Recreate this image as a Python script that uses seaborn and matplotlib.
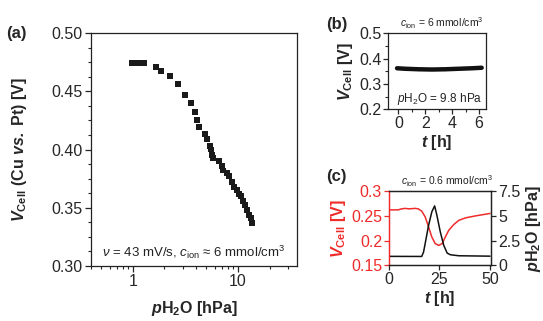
import numpy as np
import pandas as pd
import seaborn as sns
import matplotlib.pyplot as plt
from matplotlib.ticker import MultipleLocator, NullFormatter, LogLocator

# panel (a): cell voltage vs water partial pressure
p_h2o = [0.985, 1.12, 1.28, 1.66, 1.84, 2.25, 2.67, 3.13, 3.55, 3.87, 4.10, 4.28,
         4.85, 5.07, 5.41, 5.53, 5.69, 5.78, 6.59, 7.04, 7.24, 7.80, 8.26, 8.71,
         9.22, 9.72, 10.3, 10.8, 11.2, 11.7, 12.1, 12.7, 13.2, 13.6]
v_cell = [0.474, 0.4745, 0.474, 0.471, 0.467, 0.463, 0.456, 0.447, 0.440, 0.432,
          0.425, 0.419, 0.413, 0.409, 0.403, 0.400, 0.395, 0.393, 0.390, 0.386,
          0.382, 0.380, 0.377, 0.372, 0.368, 0.365, 0.362, 0.360, 0.356, 0.352,
          0.348, 0.344, 0.341, 0.337]

# panel (b): long term voltage
t_b = [-0.1, 0.5, 1.5, 2.5, 3.5, 4.5, 5.5, 6.2]
v_b = [0.362, 0.360, 0.358, 0.357, 0.358, 0.360, 0.362, 0.364]

# panel (c): voltage (red) and pH2O (black) vs time
t_red = [0, 4.5, 6.2, 7.9, 10, 12.9, 14.5, 16.2, 17.9, 19.6, 21.2, 22.9, 24.6,
         26.3, 27.9, 29.6, 32.1, 34.6, 38, 43, 50]
v_red = [0.262, 0.262, 0.264, 0.265, 0.264, 0.265, 0.264, 0.2595, 0.248, 0.2277,
         0.2074, 0.194, 0.1905, 0.194, 0.2074, 0.221, 0.2325, 0.241, 0.246, 0.250,
         0.2548]
t_blk = [0, 16.2, 17.1, 17.9, 19.6, 21.2, 22.6, 23.7, 25.4, 27.1, 28.8, 30.4, 34.6, 50]
p_blk = [0.92, 0.91, 1.35, 2.2, 4.05, 5.4, 6.0, 5.07, 3.38, 2.03, 1.25, 1.08, 0.98, 0.94]

red = '#ef2b2b'

sns.set_theme(style='ticks')
plt.rcParams['font.family'] = ['Liberation Sans', 'DejaVu Sans']
plt.rcParams['mathtext.fontset'] = 'custom'
plt.rcParams['mathtext.rm'] = 'Liberation Sans'
plt.rcParams['mathtext.it'] = 'Liberation Sans:italic'
plt.rcParams['mathtext.bf'] = 'Liberation Sans:bold'
plt.rcParams['mathtext.bfit'] = 'Liberation Sans:italic:bold'
plt.rcParams['axes.linewidth'] = 0.9
plt.rcParams['axes.edgecolor'] = '#222222'

fig = plt.figure(figsize=(5.43, 3.21), dpi=100)

# ---- (a)
ax = fig.add_axes([0.1676, 0.1713, 0.3794, 0.7259])
sns.scatterplot(x=p_h2o, y=v_cell, ax=ax, marker='s', s=18, color='#1a1a1a',
                edgecolor='none')
ax.set_xscale('log')
ax.set_xlim(0.4, 36.5)
ax.set_ylim(0.30, 0.50)
ax.xaxis.set_minor_locator(LogLocator(base=10, subs=np.arange(2, 10), numticks=20))
ax.xaxis.set_minor_formatter(NullFormatter())
ax.set_xticks([1, 10])
ax.set_xticklabels(['1', '10'])
ax.set_yticks([0.30, 0.35, 0.40, 0.45, 0.50])
ax.set_yticklabels(['0.30', '0.35', '0.40', '0.45', '0.50'])
ax.yaxis.set_minor_locator(MultipleLocator(0.0125))
ax.tick_params(which='major', direction='out', length=4, width=0.9, labelsize=11.5, pad=2)
ax.tick_params(which='minor', direction='out', length=2.2, width=0.8)
ax.set_xlabel(r'$\mathbfit{p}\mathbf{H_2O}$ [hPa]', fontsize=11.5, fontweight='bold', labelpad=7)
ax.set_ylabel(r'$\mathbfit{V}_{\mathbf{Cell}}$ (Cu $\mathbfit{vs.}$ Pt) [V]', fontsize=11.5,
              fontweight='bold', labelpad=16)
ax.text(0.5, 0.06, r'$\nu$ = 43 mV/s, $c_\mathrm{ion}$ ≈ 6 mmol/cm$^3$', transform=ax.transAxes,
        ha='center', va='center', fontsize=9.5, color='#222222')
fig.text(0.012, 0.895, '(a)', fontsize=12, fontweight='bold', ha='left', va='center')

# ---- (b)
axb = fig.add_axes([0.7151, 0.6595, 0.1794, 0.2368])
sns.lineplot(x=t_b, y=v_b, ax=axb, color='#111111', linewidth=3.2, solid_capstyle='round')
axb.set_xlim(-0.75, 6.5)
axb.set_ylim(0.2, 0.5)
axb.set_xticks([0, 2, 4, 6])
axb.set_yticks([0.2, 0.3, 0.4, 0.5])
axb.set_yticklabels(['0.2', '0.3', '0.4', '0.5'])
axb.yaxis.set_minor_locator(MultipleLocator(0.05))
axb.xaxis.set_minor_locator(MultipleLocator(1))
axb.tick_params(which='major', direction='out', length=3.5, width=0.9, labelsize=11.5, pad=1.5)
axb.tick_params(which='minor', direction='out', length=2, width=0.8)
axb.set_xlabel(r'$\mathbfit{t}$ [h]', fontsize=11.5, fontweight='bold', labelpad=1)
axb.set_ylabel(r'$\mathbfit{V}_{\mathbf{Cell}}$ [V]', fontsize=11.5, fontweight='bold', labelpad=3)
axb.text(0.97, 0.14, r'$p$H$_2$O = 9.8 hPa', transform=axb.transAxes, ha='right',
         va='center', fontsize=8.5, color='#222222')
axb.text(0.55, 1.13, r'$c_\mathrm{ion}$ = 6 mmol/cm$^3$', transform=axb.transAxes,
         ha='center', va='center', fontsize=7.5, color='#222222')
fig.text(0.6, 0.925, '(b)', fontsize=12, fontweight='bold', ha='left', va='center')

# ---- (c)
axc = fig.add_axes([0.7164, 0.1729, 0.1878, 0.2321])
sns.lineplot(x=t_red, y=v_red, ax=axc, color=red, linewidth=1.1)
axc.set_xlim(0, 50.5)
axc.set_ylim(0.15, 0.30)
axc.set_xticks([0, 25, 50])
axc.set_yticks([0.15, 0.2, 0.25, 0.3])
axc.set_yticklabels(['0.15', '0.2', '0.25', '0.3'])
axc.tick_params(axis='x', which='major', direction='out', length=3.5, width=0.9, labelsize=11.5, pad=1.5)
axc.tick_params(axis='y', which='major', direction='out', length=3.5, width=0.9, labelsize=11.5,
                pad=1.5, colors=red)
axc.spines['left'].set_color(red)
axc.set_xlabel(r'$\mathbfit{t}$ [h]', fontsize=11.5, fontweight='bold', labelpad=1)
axc.set_ylabel(r'$\mathbfit{V}_{\mathbf{Cell}}$ [V]', fontsize=11.5, fontweight='bold',
               color=red, labelpad=2)
axc.text(0.57, 1.13, r'$c_\mathrm{ion}$ = 0.6 mmol/cm$^3$', transform=axc.transAxes,
         ha='center', va='center', fontsize=7.5, color='#222222')

axc2 = axc.twinx()
sns.lineplot(x=t_blk, y=p_blk, ax=axc2, color='#111111', linewidth=1.1)
axc2.set_ylim(0, 7.5)
axc2.set_yticks([0, 2.5, 5, 7.5])
axc2.set_yticklabels(['0', '2.5', '5', '7.5'])
axc2.spines['left'].set_color(red)
axc2.tick_params(axis='y', which='major', direction='out', length=3.5, width=0.9, labelsize=11.5, pad=1.5)
axc2.set_ylabel(r'$\mathbfit{p}\mathbf{H_2O}$ [hPa]', fontsize=11.5, fontweight='bold', labelpad=3)
fig.text(0.6, 0.45, '(c)', fontsize=12, fontweight='bold', ha='left', va='center')

fig.savefig('out.png', dpi=100)
